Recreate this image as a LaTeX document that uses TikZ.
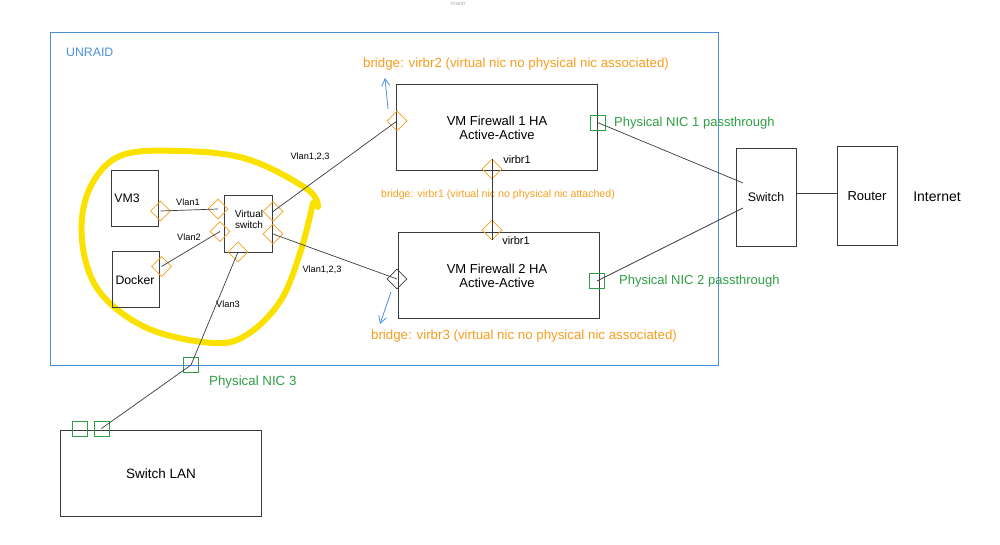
\documentclass[tikz,border=0pt]{standalone}
\usepackage{fontspec}
\setmainfont{Liberation Sans}
\usetikzlibrary{shapes.geometric,arrows.meta}
\definecolor{ublue}{HTML}{4A90D9}
\definecolor{uorange}{HTML}{F59E1E}
\definecolor{ugreen}{HTML}{2F9E44}
\definecolor{uline}{HTML}{3A3A3A}
\definecolor{uyellow}{HTML}{FAE100}
\newcommand{\fsz}[1]{\fontsize{#1}{#1}\selectfont}
\tikzset{
  box/.style={draw=uline, line width=0.9pt, rectangle, inner sep=0pt},
  port/.style={draw=uorange, line width=0.8pt, diamond, minimum width=20pt, minimum height=20pt, inner sep=0pt},
  darkport/.style={port, draw=uline},
  nic/.style={draw=ugreen, line width=0.8pt, rectangle, minimum width=15pt, minimum height=15pt, inner sep=0pt},
  wire/.style={draw=uline, line width=0.7pt},
  lbl/.style={font=\fsz{9.2}, text=black, inner sep=0pt},
  blbl/.style={font=\fsz{12.3}, text=black, inner sep=0pt, align=center},
  olbl/.style={font=\fsz{13.3}, text=uorange, inner sep=0pt},
  glbl/.style={font=\fsz{13}, text=ugreen, inner sep=0pt},
  barrow/.style={draw=ublue, line width=0.8pt, -{Straight Barb[length=7pt,width=8pt]}},
}
\begin{document}
\begin{tikzpicture}[x=1pt,y=-1pt]
\useasboundingbox (0,0) rectangle (1000,545);
% title
\node[font=\fsz{6}, text=gray!60, inner sep=0pt] (mano) at (458,4) {mano};
% UNRAID frame
\node[draw=ublue, line width=0.8pt, rectangle, minimum width=668pt, minimum height=333pt, inner sep=0pt, anchor=north west] (unraid) at (50,32) {};
\node[font=\fsz{12.3}, text=ublue, inner sep=0pt, anchor=west] (unraidl) at (66,52) {UNRAID};
% yellow loop
\draw[uyellow, line width=6pt, line cap=round, line join=round] plot[smooth, tension=0.6] coordinates {(318,207) (307,189) (247,159) (180,151) (120,156) (89,190) (82,240) (99,291) (147,328) (213,343) (248,334) (281,300) (301,250) (313,203)};
% left boxes
\node[box, minimum width=47pt, minimum height=56pt] (vm3) at (134.5,198) {};
\node[blbl] (vm3t) at (127,198) {VM3};
\node[box, minimum width=47pt, minimum height=56pt] (docker) at (135.5,279) {};
\node[blbl] (dockert) at (135,280) {Docker};
\node[box, minimum width=48pt, minimum height=57pt] (vsw) at (248,223.5) {};
\node[lbl, align=center, font=\fsz{10}, text height=7pt] (vswt) at (249,225) {Virtual\\[1pt]switch};
% ports
\node[port] (pvm3) at (160.5,211) {};
\node[port] (pdock) at (161.5,266.5) {};
\node[port] (psl1) at (218,209) {};
\node[port] (psl2) at (220,231.5) {};
\node[port] (psr1) at (273,211.5) {};
\node[port] (psr2) at (273,234) {};
\node[port] (psb) at (238,252) {};
% firewalls
\node[box, minimum width=201pt, minimum height=86pt] (fw1) at (496.5,127) {};
\node[blbl, font=\fsz{13}] (fw1t) at (497,127.5) {VM Firewall 1 HA\\[1pt]Active-Active};
\node[box, minimum width=201pt, minimum height=86pt] (fw2) at (498.5,275) {};
\node[blbl, font=\fsz{13}] (fw2t) at (497,275.5) {VM Firewall 2 HA\\[1pt]Active-Active};
\node[port] (pf1l) at (397,121) {};
\node[port] (pf1b) at (492,169) {};
\node[port] (pf2t) at (492,230) {};
\node[darkport] (pf2l) at (397,279) {};
\node[lbl, font=\fsz{11}] (v1a) at (517,160) {virbr1};
\node[lbl, font=\fsz{11}] (v1b) at (516,241) {virbr1};
\node[lbl, font=\fsz{10.6}, text=uorange] (br1) at (498,195) {bridge: virbr1 (virtual nic no physical nic attached)};
\node[olbl] (br2) at (516,64) {bridge: virbr2 (virtual nic no physical nic associated)};
\node[olbl] (br3) at (524,336) {bridge: virbr3 (virtual nic no physical nic associated)};
\coordinate (a2s) at (388,109);
\coordinate (a2e) at (385,78);
\coordinate (a3s) at (391,292);
\coordinate (a3e) at (380,324);
\draw[barrow] (a2s) -- (a2e);
\draw[barrow] (a3s) -- (a3e);
% nics
\node[nic] (nic1) at (597.5,122.5) {};
\node[nic] (nic2) at (597,281) {};
\node[glbl, anchor=west] (nic1t) at (614,123) {Physical NIC 1 passthrough};
\node[glbl, anchor=west] (nic2t) at (619,281) {Physical NIC 2 passthrough};
\node[nic] (nic3) at (191,365) {};
\node[glbl, anchor=west, font=\fsz{13.3}] (nic3t) at (209,382) {Physical NIC 3};
% right side
\node[box, minimum width=60pt, minimum height=98pt] (sw) at (766,197) {};
\node[blbl, font=\fsz{12.4}] (swt) at (766,197) {Switch};
\node[box, minimum width=60pt, minimum height=99pt] (rt) at (867,195.5) {};
\node[blbl, font=\fsz{13}] (rtt) at (867,196) {Router};
\node[blbl, font=\fsz{14}] (inet) at (937,197) {Internet};
\coordinate (sw1) at (743,183);
\coordinate (sw2) at (743,208);
% switch LAN
\node[box, minimum width=201pt, minimum height=86pt] (lan) at (160.5,473) {};
\node[blbl, font=\fsz{13.5}] (lant) at (161,474) {Switch LAN};
\node[nic] (lp1) at (79.5,428.5) {};
\node[nic] (lp2) at (101.5,428.5) {};
% wires
\draw[wire] (pvm3.center) -- (psl1.center);
\node[lbl] (l1) at (188,202) {Vlan1};
\draw[wire] (pdock.center) -- (psl2.center);
\node[lbl] (l2) at (189,237) {Vlan2};
\draw[wire] (psb.center) -- (nic3.center);
\node[lbl] (l3) at (228,304) {Vlan3};
\draw[wire] (psr1.center) -- (pf1l.center);
\node[lbl] (l4) at (310,157) {Vlan1,2,3};
\draw[wire] (psr2.center) -- (pf2l.center);
\node[lbl] (l5) at (322,270) {Vlan1,2,3};
\draw[wire] (pf1b.north) -- (pf2t.south);
\draw[wire] (nic1.center) -- (sw1);
\draw[wire] (nic2.center) -- (sw2);
\draw[wire] (sw.east |- 0,193) -- (rt.west |- 0,193);
\draw[wire] (nic3.center) -- (lp2.center);
\end{tikzpicture}
\end{document}
